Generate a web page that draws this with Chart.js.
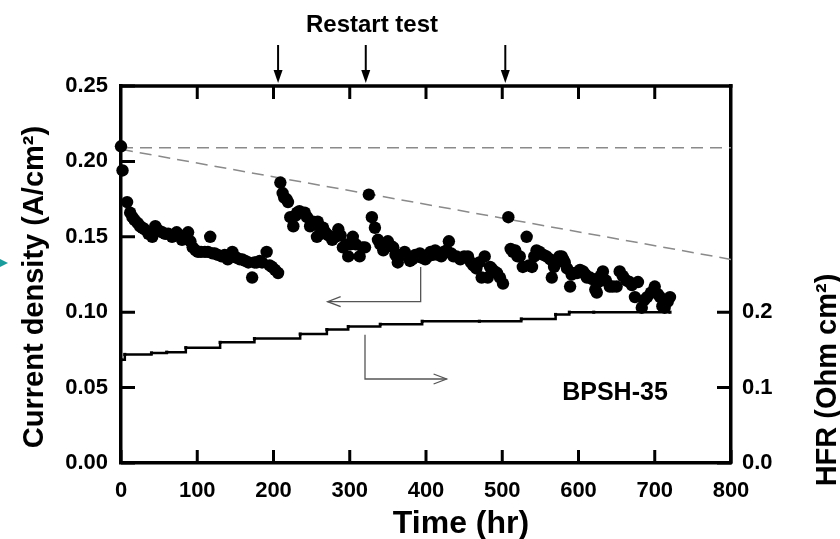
<!DOCTYPE html>
<html>
<head>
<meta charset="utf-8">
<script src="https://cdn.jsdelivr.net/npm/chart.js@4.4.1/dist/chart.umd.min.js"></script>
<style>
html, body { margin: 0; padding: 0; background: #fff; }
</style>
</head>
<body>
<canvas id="chart" width="840" height="539"></canvas>
<script>
// ====================
// data
// ====================
const cdTime = [
    0, 2, 8, 12, 15, 18, 22, 25, 28, 31, 36, 41, 45, 50, 54, 58, 62, 67, 73, 77,
    80, 84, 88, 91, 94, 98, 101, 105, 110, 114, 117, 120, 123, 127, 132, 136, 140, 146, 149, 152,
    156, 159, 163, 167, 172, 175, 178, 182, 185, 191, 195, 198, 202, 206,
    209, 212, 214, 217, 219, 222, 226, 229, 231, 234, 237, 241, 244, 248, 252, 255,
    257, 258, 262, 265, 268, 272, 277, 281, 285, 288, 291, 295, 298, 301, 304, 308, 313, 317, 320,
    325, 329, 333, 337, 340, 344, 347, 350, 354, 357, 360, 363, 367, 372, 376, 379, 382, 386, 389,
    392, 395, 399, 403, 406, 409, 412, 416, 420, 423, 427, 430, 433, 436, 440, 445, 450, 455, 459,
    462, 466, 470, 473, 477, 481, 484, 486, 490, 493, 497, 501,
    508, 511, 514, 517, 520, 523, 527, 532, 535, 539, 542, 545, 549, 554, 558, 563, 565, 568, 572,
    575, 578, 580, 582, 585, 589, 591, 595, 598, 602, 606, 609, 611, 615, 618, 622, 624, 626, 629,
    632, 636, 641, 645, 650, 654, 658, 663, 667, 670, 674, 678, 683, 686, 690, 695, 700, 704, 707,
    710, 713, 717, 720
];
const cdValue = [
    0.210, 0.194, 0.173, 0.166, 0.163, 0.161, 0.159, 0.157, 0.156, 0.155, 0.152, 0.150, 0.157, 0.154, 0.153, 0.152, 0.152, 0.150, 0.153, 0.151,
    0.148, 0.150, 0.153, 0.147, 0.143, 0.141, 0.140, 0.140, 0.140, 0.140, 0.150, 0.139, 0.139, 0.138, 0.137, 0.138, 0.135, 0.140, 0.137, 0.136,
    0.135, 0.135, 0.134, 0.133, 0.123, 0.133, 0.133, 0.134, 0.133, 0.140, 0.131, 0.130, 0.128, 0.126,
    0.186, 0.179, 0.176, 0.175, 0.173, 0.163, 0.157, 0.164, 0.166, 0.167, 0.166, 0.166, 0.163, 0.157, 0.160, 0.158,
    0.150, 0.160, 0.152, 0.156, 0.153, 0.151, 0.148, 0.150, 0.155, 0.151, 0.143, 0.145, 0.137, 0.145, 0.150, 0.145, 0.137, 0.143, 0.143,
    0.178, 0.163, 0.156, 0.148, 0.145, 0.141, 0.144, 0.147, 0.144, 0.143, 0.138, 0.133, 0.138, 0.140, 0.137, 0.134, 0.135, 0.138, 0.137,
    0.139, 0.136, 0.135, 0.137, 0.140, 0.138, 0.141, 0.138, 0.137, 0.140, 0.141, 0.147, 0.139, 0.137, 0.137, 0.135, 0.137, 0.137, 0.133,
    0.131, 0.129, 0.133, 0.123, 0.137, 0.123, 0.130, 0.129, 0.127, 0.126, 0.123, 0.119,
    0.163, 0.142, 0.140, 0.141, 0.137, 0.137, 0.130, 0.150, 0.131, 0.130, 0.137, 0.141, 0.140, 0.138, 0.137, 0.135, 0.123, 0.130, 0.133,
    0.137, 0.137, 0.135, 0.133, 0.129, 0.117, 0.125, 0.126, 0.126, 0.128, 0.127, 0.125, 0.123, 0.123, 0.122, 0.115, 0.113, 0.120, 0.124,
    0.127, 0.121, 0.117, 0.117, 0.117, 0.127, 0.124, 0.121, 0.120, 0.118, 0.110, 0.120, 0.103, 0.108, 0.110, 0.113, 0.117, 0.112, 0.110,
    0.104, 0.103, 0.107, 0.110
];

// HFR steps (right axis)
const hfrTime  = [0, 5, 40, 60, 85, 130, 175, 235, 270, 298, 340, 395, 470, 525, 570, 588, 620, 720];
const hfrValue = [0.137, 0.144, 0.146, 0.147, 0.153, 0.160, 0.165, 0.171, 0.177, 0.181, 0.184, 0.188, 0.188, 0.191, 0.197, 0.200, 0.200, 0.200];

// dashed guide lines [t0, v0, t1, v1]
const flatLine  = [0, 0.209, 800, 0.209];
const slopeLine = [0, 0.208, 800, 0.135];

// ticks
const timeTicks = [0, 100, 200, 300, 400, 500, 600, 700, 800];
const topTicks  = [100, 200, 300, 400, 500, 600, 700];
const cdTicks   = [0, 0.05, 0.10, 0.15, 0.20, 0.25];
const hfrTicks  = [0, 0.1, 0.2];

// annotations
const restartTimes = [206, 321, 504];
const leftArrow  = [[393, 0.130], [393, 0.107], [271, 0.107]];   // points to left axis
const rightArrow = [[320, 0.085], [320, 0.0557], [427, 0.0557]]; // points to right axis

const FONT = "'Liberation Sans', Arial, sans-serif";

// ====================
// drawing helpers
// ====================
function openHead(ctx, x, y, dir) {
    ctx.beginPath();
    ctx.moveTo(x - dir * 13, y - 5);
    ctx.lineTo(x, y);
    ctx.lineTo(x - dir * 13, y + 5);
    ctx.stroke();
}

const decor = {
    id: "decor",
    afterDraw(chart) {
        const ctx = chart.ctx;
        const a = chart.chartArea;
        const xs = chart.scales.x, ys = chart.scales.y, y2 = chart.scales.y2;

        ctx.save();
        ctx.strokeStyle = "#000";
        ctx.fillStyle = "#000";

        // top frame line
        ctx.lineWidth = 3.5;
        ctx.beginPath();
        ctx.moveTo(a.left - 1.5, a.top);
        ctx.lineTo(a.right + 1.5, a.top);
        ctx.stroke();

        // inward tick marks
        ctx.lineWidth = 3;
        ctx.beginPath();
        timeTicks.forEach(t => {
            const x = xs.getPixelForValue(t);
            ctx.moveTo(x, a.bottom); ctx.lineTo(x, a.bottom - 13);
        });
        topTicks.forEach(t => {
            const x = xs.getPixelForValue(t);
            ctx.moveTo(x, a.top); ctx.lineTo(x, a.top + 13);
        });
        cdTicks.forEach(v => {
            const y = ys.getPixelForValue(v);
            ctx.moveTo(a.left, y); ctx.lineTo(a.left + 14, y);
        });
        hfrTicks.forEach(v => {
            const y = y2.getPixelForValue(v);
            ctx.moveTo(a.right, y); ctx.lineTo(a.right - 14, y);
        });
        ctx.stroke();

        // restart arrows above the frame
        ctx.lineWidth = 2;
        restartTimes.forEach(t => {
            const x = xs.getPixelForValue(t);
            ctx.beginPath();
            ctx.moveTo(x, a.top - 41);
            ctx.lineTo(x, a.top - 12);
            ctx.stroke();
            ctx.beginPath();
            ctx.moveTo(x - 4.5, a.top - 16);
            ctx.lineTo(x, a.top - 3);
            ctx.lineTo(x + 4.5, a.top - 16);
            ctx.closePath();
            ctx.fill();
        });

        // axis pointer arrows
        ctx.strokeStyle = "#555";
        ctx.lineWidth = 1.3;
        [[leftArrow, -1], [rightArrow, 1]].forEach(([pts, dir]) => {
            ctx.beginPath();
            pts.forEach(([t, v], i) => {
                const x = xs.getPixelForValue(t), y = ys.getPixelForValue(v);
                if (i === 0) ctx.moveTo(x, y); else ctx.lineTo(x, y);
            });
            ctx.stroke();
            const [tt, tv] = pts[pts.length - 1];
            openHead(ctx, xs.getPixelForValue(tt), ys.getPixelForValue(tv), dir);
        });

        // texts
        ctx.fillStyle = "#000";
        ctx.textAlign = "center";
        ctx.textBaseline = "alphabetic";

        ctx.font = "bold 24px " + FONT;
        ctx.fillText("Restart test", 372, 32);

        ctx.font = "bold 25px " + FONT;
        ctx.fillText("BPSH-35", 615, 400);

        ctx.font = "bold 32px " + FONT;
        ctx.fillText("Time (hr)", 461, 533);

        ctx.font = "bold 29px " + FONT;
        ctx.save();
        ctx.translate(43, 287);
        ctx.rotate(-Math.PI / 2);
        ctx.fillText("Current density (A/cm²)", 0, 0);
        ctx.restore();

        ctx.save();
        ctx.translate(836, 380);
        ctx.rotate(-Math.PI / 2);
        ctx.fillText("HFR (Ohm cm²)", 0, 0);
        ctx.restore();

        // small teal marker at left edge
        ctx.fillStyle = "#1a9c9c";
        ctx.beginPath();
        ctx.moveTo(0, 259);
        ctx.lineTo(8, 263);
        ctx.lineTo(0, 267);
        ctx.closePath();
        ctx.fill();

        ctx.restore();
    }
};

// ====================
// chart
// ====================
const tickFont = { family: FONT, size: 22, weight: "bold" };

new Chart(document.getElementById("chart"), {
    data: {
        datasets: [
            {
                type: "scatter",
                label: "Current density",
                data: cdTime.map((t, i) => ({ x: t, y: cdValue[i] })),
                yAxisID: "y",
                pointRadius: 6.2,
                pointBackgroundColor: "#000",
                pointBorderWidth: 0,
                clip: false,
                order: 1
            },
            {
                type: "line",
                label: "HFR",
                data: hfrTime.map((t, i) => ({ x: t, y: hfrValue[i] })),
                yAxisID: "y2",
                stepped: true,
                borderColor: "#000",
                borderWidth: 2.5,
                pointStyle: "rect",
                pointRadius: 2.2,
                pointBackgroundColor: "#000",
                pointBorderWidth: 0,
                order: 2
            },
            {
                type: "line",
                label: "flat",
                data: [{ x: flatLine[0], y: flatLine[1] }, { x: flatLine[2], y: flatLine[3] }],
                yAxisID: "y",
                borderColor: "#8a8a8a",
                borderWidth: 1.5,
                borderDash: [12, 7],
                pointRadius: 0,
                order: 3
            },
            {
                type: "line",
                label: "slope",
                data: [{ x: slopeLine[0], y: slopeLine[1] }, { x: slopeLine[2], y: slopeLine[3] }],
                yAxisID: "y",
                borderColor: "#8a8a8a",
                borderWidth: 1.5,
                borderDash: [12, 7],
                pointRadius: 0,
                order: 3
            }
        ]
    },
    options: {
        responsive: false,
        animation: false,
        layout: { padding: { top: 86, left: 0, right: 0, bottom: 0 } },
        plugins: {
            legend: { display: false },
            tooltip: { enabled: false }
        },
        scales: {
            x: {
                type: "linear",
                position: "bottom",
                min: 0,
                max: 800,
                afterBuildTicks: s => { s.ticks = timeTicks.map(v => ({ value: v })); },
                afterFit: s => { s.height = 76; },
                ticks: { font: tickFont, color: "#000", padding: 15, maxRotation: 0 },
                grid: { display: false, drawTicks: false },
                border: { display: true, color: "#000", width: 3.5 }
            },
            y: {
                position: "left",
                min: 0,
                max: 0.25,
                afterBuildTicks: s => { s.ticks = cdTicks.map(v => ({ value: v })); },
                afterFit: s => { s.width = 121; },
                ticks: { font: tickFont, color: "#000", padding: 13, callback: v => v.toFixed(2) },
                grid: { display: false, drawTicks: false },
                border: { display: true, color: "#000", width: 3.5 }
            },
            y2: {
                position: "right",
                min: 0,
                max: 0.5,
                afterBuildTicks: s => { s.ticks = hfrTicks.map(v => ({ value: v })); },
                afterFit: s => { s.width = 109; },
                ticks: { font: tickFont, color: "#000", padding: 11, callback: v => v.toFixed(1) },
                grid: { display: false, drawTicks: false },
                border: { display: true, color: "#000", width: 3.5 }
            }
        }
    },
    plugins: [decor]
});
</script>
</body>
</html>
